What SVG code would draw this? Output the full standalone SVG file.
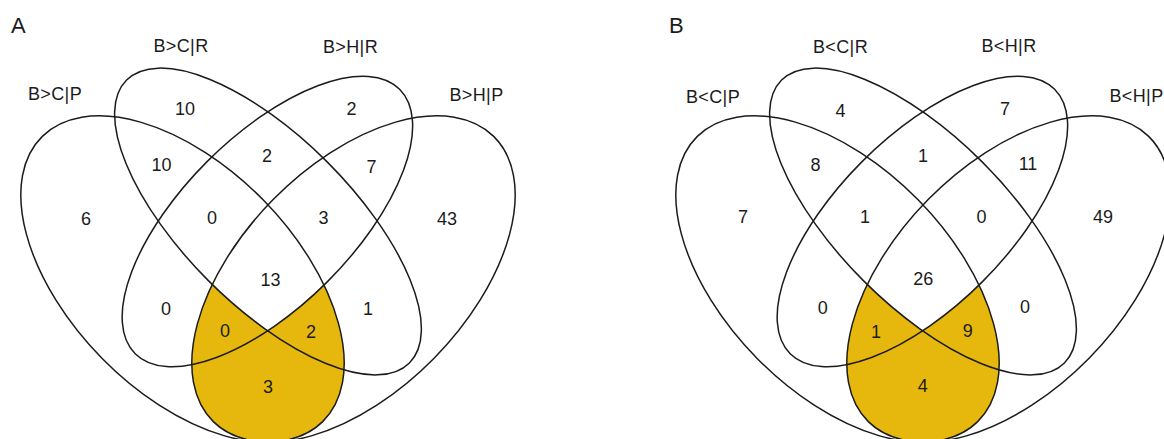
<svg xmlns="http://www.w3.org/2000/svg" xmlns:xlink="http://www.w3.org/1999/xlink" width="1164" height="439" viewBox="0 0 1164 439">
  <style>
    .set { fill: none; stroke: #1b1b1b; stroke-width: 1.5; }
    .txt { font-family: "Liberation Sans", Arial, Helvetica, sans-serif; fill: #1b1b1b; text-anchor: middle; }
    .lbl { font-size: 18px; letter-spacing: 0.4px; }
    .num { font-size: 18px; }
    .tag { font-size: 22px; text-anchor: start; }
    .hi  { fill: #E6B80E; }
    .bg  { fill: #ffffff; }
  </style>
  <defs>
    <!-- the four set outlines, shared by both panels -->
    <ellipse id="e-pl" cx="0" cy="0" rx="200" ry="113" transform="translate(182.5 279) rotate(45.5)"/>
    <ellipse id="e-cr" cx="0" cy="0" rx="200" ry="84" transform="translate(268 221.5) rotate(45)"/>
    <ellipse id="e-hr" cx="0" cy="0" rx="187" ry="85" transform="translate(267.4 221.5) rotate(-45)"/>
    <ellipse id="e-pr" cx="0" cy="0" rx="200" ry="113" transform="translate(353.5 279) rotate(-45.5)"/>
    <clipPath id="clip-pl"><use xlink:href="#e-pl" href="#e-pl"/></clipPath>
    <clipPath id="clip-hr"><use xlink:href="#e-hr" href="#e-hr"/></clipPath>
  </defs>

  <rect width="1164" height="439" fill="#ffffff"/>

  <!-- Panel A -->
  <g id="panel-a">
    <text class="txt tag" x="11" y="33">A</text>
    <!-- both P sets, excluding the overlap of both R sets -->
    <g id="a-highlight">
      <use xlink:href="#e-pr" href="#e-pr" class="hi" clip-path="url(#clip-pl)"/>
      <use xlink:href="#e-cr" href="#e-cr" class="bg" clip-path="url(#clip-hr)"/>
    </g>
    <g id="a-set-bcp">
      <use xlink:href="#e-pl" href="#e-pl" class="set"/>
      <text class="txt lbl" x="55" y="100">B&gt;C|P</text>
    </g>
    <g id="a-set-bcr">
      <use xlink:href="#e-cr" href="#e-cr" class="set"/>
      <text class="txt lbl" x="181" y="51.5">B&gt;C|R</text>
    </g>
    <g id="a-set-bhr">
      <use xlink:href="#e-hr" href="#e-hr" class="set"/>
      <text class="txt lbl" x="350.5" y="52.5">B&gt;H|R</text>
    </g>
    <g id="a-set-bhp">
      <use xlink:href="#e-pr" href="#e-pr" class="set"/>
      <text class="txt lbl" x="476.5" y="101">B&gt;H|P</text>
    </g>
    <g id="a-counts" class="txt num">
      <text x="86" y="224.5">6</text>
      <text x="185" y="114.5">10</text>
      <text x="351.5" y="114.5">2</text>
      <text x="447" y="224.5">43</text>
      <text x="161.5" y="170.5">10</text>
      <text x="267" y="161.5">2</text>
      <text x="371.5" y="172.5">7</text>
      <text x="212" y="223.5">0</text>
      <text x="323.5" y="223.5">3</text>
      <text x="270.5" y="285.5">13</text>
      <text x="166" y="314.5">0</text>
      <text x="368" y="314.5">1</text>
      <text x="225" y="336.5">0</text>
      <text x="311" y="337.5">2</text>
      <text x="268" y="392.5">3</text>
    </g>
  </g>

  <!-- Panel B -->
  <g id="panel-b" transform="translate(655 0)">
    <text class="txt tag" x="14" y="33">B</text>
    <g id="b-highlight">
      <use xlink:href="#e-pr" href="#e-pr" class="hi" clip-path="url(#clip-pl)"/>
      <use xlink:href="#e-cr" href="#e-cr" class="bg" clip-path="url(#clip-hr)"/>
    </g>
    <g id="b-set-bcp">
      <use xlink:href="#e-pl" href="#e-pl" class="set"/>
      <text class="txt lbl" x="58" y="103">B&lt;C|P</text>
    </g>
    <g id="b-set-bcr">
      <use xlink:href="#e-cr" href="#e-cr" class="set"/>
      <text class="txt lbl" x="185.5" y="52.5">B&lt;C|R</text>
    </g>
    <g id="b-set-bhr">
      <use xlink:href="#e-hr" href="#e-hr" class="set"/>
      <text class="txt lbl" x="354" y="52">B&lt;H|R</text>
    </g>
    <g id="b-set-bhp">
      <use xlink:href="#e-pr" href="#e-pr" class="set"/>
      <text class="txt lbl" x="481.5" y="102">B&lt;H|P</text>
    </g>
    <g id="b-counts" class="txt num">
      <text x="88" y="223">7</text>
      <text x="185.5" y="116.5">4</text>
      <text x="350" y="114.5">7</text>
      <text x="448" y="223">49</text>
      <text x="160.5" y="171">8</text>
      <text x="268" y="161.5">1</text>
      <text x="373" y="169.5">11</text>
      <text x="210" y="223">1</text>
      <text x="326.5" y="223">0</text>
      <text x="268.3" y="284.8">26</text>
      <text x="167.7" y="314">0</text>
      <text x="370" y="312.5">0</text>
      <text x="221" y="338">1</text>
      <text x="312.7" y="337">9</text>
      <text x="267.7" y="391.5">4</text>
    </g>
  </g>
</svg>
